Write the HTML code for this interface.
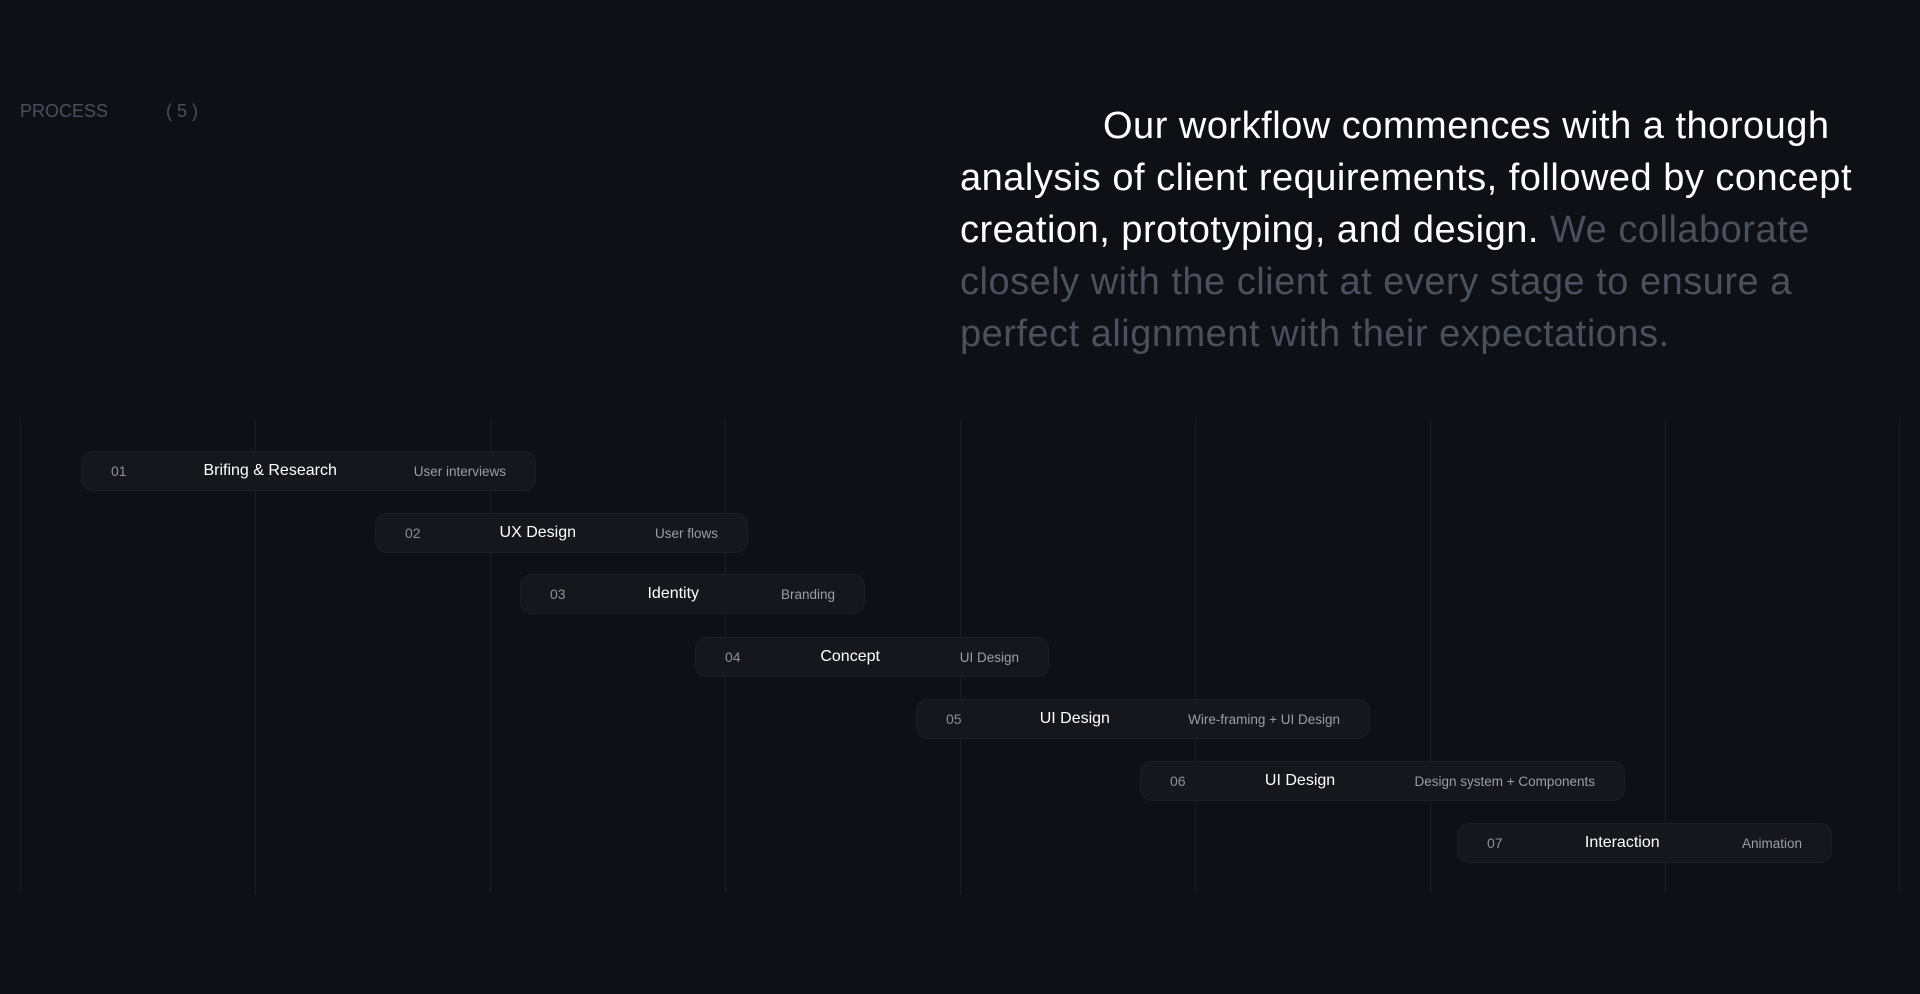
<!DOCTYPE html>
<html><head><meta charset="utf-8"><style>
html,body{margin:0;padding:0;}
body{width:1920px;height:994px;background:#0f1016;position:relative;overflow:hidden;font-family:"Liberation Sans",sans-serif;}
.vl{position:absolute;top:420px;height:474px;width:1px;background:#1d1f26;}
.lab{position:absolute;top:101px;color:#4a505c;font-size:18px;}
.head{position:absolute;left:960px;top:100px;font-size:38px;line-height:52px;color:#fff;white-space:nowrap;letter-spacing:0.5px;}
.head .g{color:#4a505c;}
.row{position:absolute;height:40px;background:#16171d;border:1px solid #1d1e25;border-radius:12px;box-sizing:border-box;display:flex;align-items:center;justify-content:space-between;padding:0 29px;}
.n{color:#8b909a;font-size:14px;}
.t{color:#fff;font-size:16px;}
.s{color:#9a9ea8;font-size:13.5px;}
</style></head><body>
<div class="vl" style="left:20px"></div><div class="vl" style="left:255px"></div><div class="vl" style="left:490px"></div><div class="vl" style="left:725px"></div><div class="vl" style="left:960px"></div><div class="vl" style="left:1195px"></div><div class="vl" style="left:1430px"></div><div class="vl" style="left:1665px"></div><div class="vl" style="left:1899px"></div>
<div class="lab" style="left:20px">PROCESS</div>
<div class="lab" style="left:166px">( 5 )</div>
<div class="head"><span style="padding-left:143px">Our workflow commences with a thorough</span><br>analysis of client requirements, followed by concept<br>creation, prototyping, and design. <span class="g">We collaborate</span><br><span class="g">closely with the client at every stage to ensure a</span><br><span class="g">perfect alignment with their expectations.</span></div>
<div class="row" style="left:81px;top:451px;width:455px"><span class="n">01</span><span class="t">Brifing &amp; Research</span><span class="s">User interviews</span></div>
<div class="row" style="left:375px;top:513px;width:373px"><span class="n">02</span><span class="t">UX Design</span><span class="s">User flows</span></div>
<div class="row" style="left:520px;top:574px;width:345px"><span class="n">03</span><span class="t">Identity</span><span class="s">Branding</span></div>
<div class="row" style="left:695px;top:637px;width:354px"><span class="n">04</span><span class="t">Concept</span><span class="s">UI Design</span></div>
<div class="row" style="left:916px;top:699px;width:454px"><span class="n">05</span><span class="t">UI Design</span><span class="s">Wire-framing + UI Design</span></div>
<div class="row" style="left:1140px;top:761px;width:485px"><span class="n">06</span><span class="t">UI Design</span><span class="s">Design system + Components</span></div>
<div class="row" style="left:1457px;top:823px;width:375px"><span class="n">07</span><span class="t">Interaction</span><span class="s">Animation</span></div>
</body></html>
